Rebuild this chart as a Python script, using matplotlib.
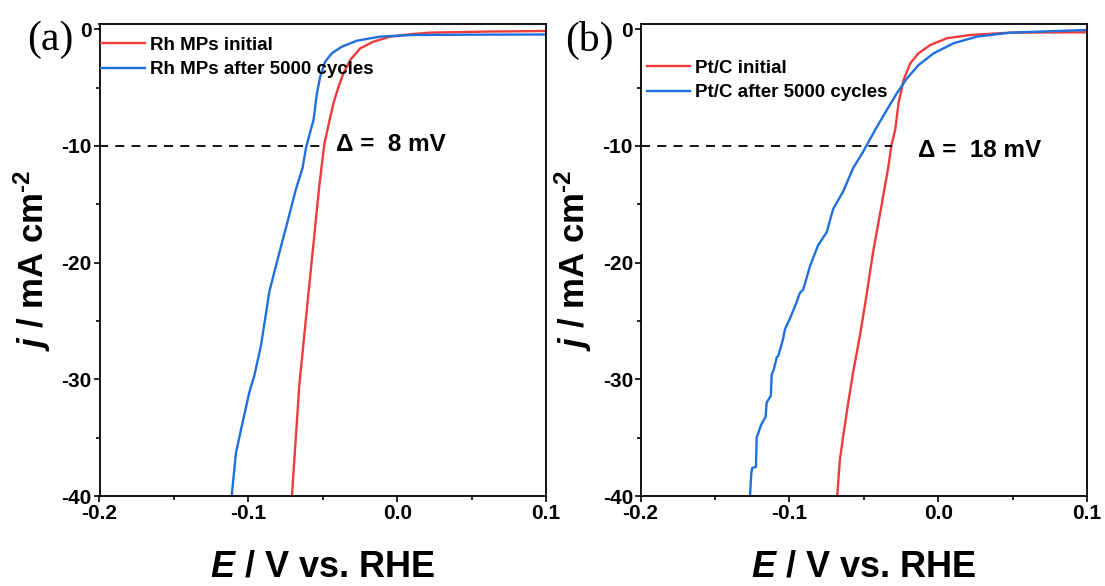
import matplotlib.pyplot as plt
from matplotlib.ticker import MultipleLocator

plt.rcParams['font.family'] = ['Liberation Sans', 'DejaVu Sans']
plt.rcParams['mathtext.fontset'] = 'custom'
plt.rcParams['mathtext.it'] = 'Liberation Sans:italic:bold'
plt.rcParams['mathtext.bf'] = 'Liberation Sans:bold'
plt.rcParams['mathtext.rm'] = 'Liberation Sans:bold'

# panel (a): Rh MPs
rh_init_E = [-0.0707, -0.0658, -0.0613, -0.0568, -0.0523, -0.0490, -0.0454, -0.0428,
             -0.0394, -0.0361, -0.0315, -0.0248, -0.0159, -0.0045, 0.0110, 0.0223,
             0.06, 0.1]
rh_init_j = [-40.0, -30.6, -24.8, -19.1, -13.4, -9.9, -7.78, -6.34,
             -4.92, -3.77, -2.63, -1.63, -1.06, -0.63, -0.40, -0.29,
             -0.2, -0.15]
rh_after_E = [-0.1112, -0.1083, -0.1049, -0.0993, -0.0960, -0.0915, -0.0859, -0.0803,
              -0.0743, -0.0680, -0.0636, -0.0613, -0.0580, -0.0562, -0.0539, -0.0517,
              -0.0484, -0.0439, -0.0371, -0.0270, -0.0114, 0.0110, 0.06, 0.1]
rh_after_j = [-40.0, -36.3, -34.3, -31.1, -29.7, -27.1, -22.5, -19.7,
              -16.8, -13.7, -11.9, -10.2, -8.6, -7.77, -5.48, -4.06,
              -2.78, -2.06, -1.49, -0.98, -0.63, -0.49, -0.46, -0.45]

# panel (b): Pt/C
pt_init_E = [-0.0679, -0.0661, -0.0639, -0.0605, -0.0572, -0.0527, -0.0482, -0.0438,
             -0.0381, -0.0337, -0.0314, -0.0289, -0.0267, -0.0233, -0.0188, -0.0132,
             -0.0054, 0.0058, 0.0215, 0.0484, 0.1]
pt_init_j = [-40.0, -36.9, -34.9, -32.0, -29.4, -26.3, -22.8, -19.1,
             -15.1, -11.9, -9.9, -8.6, -6.34, -4.34, -2.91, -2.06,
             -1.35, -0.77, -0.49, -0.29, -0.26]
pt_after_E = [-0.1265, -0.1256, -0.1250, -0.1225, -0.1220, -0.1190, -0.1160, -0.1153,
              -0.1125, -0.1119, -0.1104, -0.1085, -0.1075, -0.1042, -0.1030, -0.0997,
              -0.0952, -0.0930, -0.0907, -0.0862, -0.0807, -0.0750, -0.0706, -0.0639,
              -0.0572, -0.0505, -0.0423, -0.0345, -0.0278, -0.0210, -0.0132, -0.0031,
              0.0103, 0.0260, 0.0484, 0.1]
pt_after_j = [-40.0, -38.0, -37.6, -37.5, -35.0, -33.9, -33.2, -32.0,
              -31.4, -29.6, -29.1, -28.1, -28.0, -26.5, -25.7, -24.8,
              -23.4, -22.6, -22.3, -20.3, -18.5, -17.4, -15.4, -13.9,
              -11.9, -10.5, -8.6, -6.9, -5.48, -4.2, -3.06, -2.06,
              -1.2, -0.63, -0.29, -0.06]

panels = [
    ('(a)', rh_init_E, rh_init_j, rh_after_E, rh_after_j,
     'Rh MPs initial', 'Rh MPs after 5000 cycles', -0.049, 'Δ =  8 mV', -0.0411, -9.9),
    ('(b)', pt_init_E, pt_init_j, pt_after_E, pt_after_j,
     'Pt/C initial', 'Pt/C after 5000 cycles', -0.0314, 'Δ =  18 mV', -0.0136, -10.4),
]

red = '#ee3b3b'
blue = '#1f6fde'

fig = plt.figure(figsize=(11.05, 5.86), dpi=100)
lefts = [99.5 / 1105, 640.6 / 1105]
leg_pos = [(2 / 447, 0.973), (6 / 447, 0.925)]
tag_x = [27 / 1105, 565 / 1105]
for i, p in enumerate(panels):
    tag, e1, j1, e2, j2, lab1, lab2, xcut, dtxt, dx, dy = p
    ax = fig.add_axes([lefts[i], 90 / 586, 446.5 / 1105, 472 / 586])
    ax.plot(e1, j1, color=red, lw=1.7, label=lab1)
    ax.plot(e2, j2, color=blue, lw=1.7, label=lab2)
    ax.plot([-0.2, xcut], [-10, -10], color='black', lw=1.3, ls=(0, (5, 4)))
    ax.text(dx, dy, dtxt, fontsize=17.5, fontweight='bold', va='center', ha='left')
    ax.set_xlim(-0.2, 0.1)
    ax.set_ylim(-40, 0.45)
    ax.xaxis.set_minor_locator(MultipleLocator(0.05))
    ax.yaxis.set_minor_locator(MultipleLocator(5))
    ax.set_xticks([-0.2, -0.1, 0.0, 0.1])
    ax.set_xticklabels(['-0.2', '-0.1', '0.0', '0.1'])
    ax.set_yticks([0, -10, -20, -30, -40])
    ax.set_yticklabels(['0', '-10', '-20', '-30', '-40'])
    ax.tick_params(which='major', direction='out', length=4, width=1.2, labelsize=15, pad=1.5)
    ax.tick_params(which='minor', direction='out', length=3, width=1.2)
    for lbl in ax.get_xticklabels() + ax.get_yticklabels():
        lbl.set_fontweight('bold')
    for s in ax.spines.values():
        s.set_linewidth(1.3)
    ax.set_xlabel('$E$ / V vs. RHE', fontsize=26, fontweight='bold', labelpad=19)
    ax.set_ylabel(r'$j$ / mA cm$^{\text{-2}}$', fontsize=25, fontweight='bold', labelpad=6)
    ax.legend(loc='upper left', bbox_to_anchor=leg_pos[i], frameon=False,
              prop={'size': 13.5, 'weight': 'bold'}, handlelength=2.3,
              handletextpad=0.27, labelspacing=0.4, borderpad=0, borderaxespad=0)
    fig.text(tag_x[i], 1 - 40 / 586, tag, fontsize=30,
             family='Liberation Serif', va='center', ha='left')

fig.savefig('out.png', dpi=100)
